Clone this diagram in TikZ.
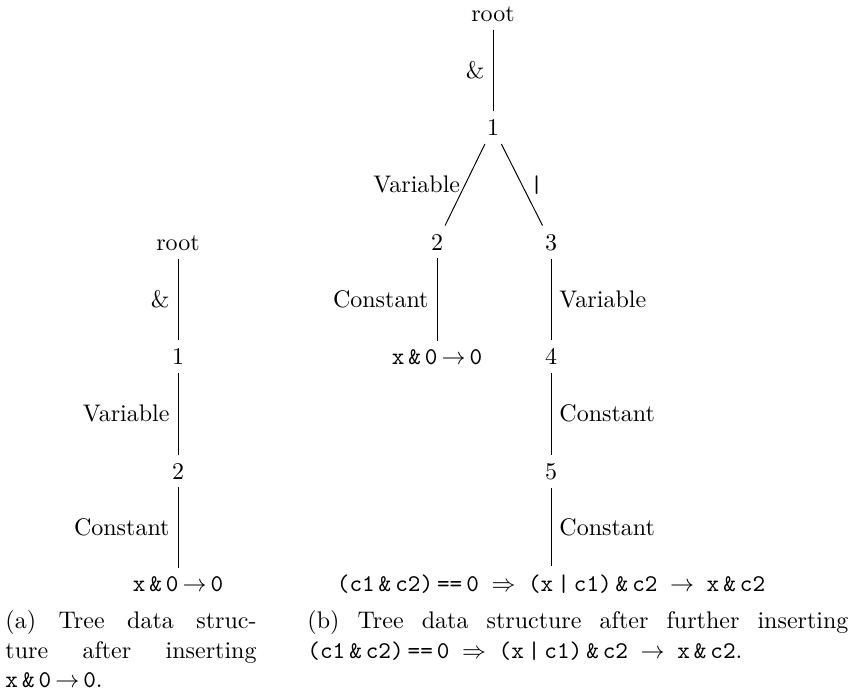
\documentclass[tikz,border=0pt]{standalone}
\begin{document}
\begin{tikzpicture}[x=0.41667pt, y=-0.41667pt,
  nd/.style={anchor=base, inner sep=3.33pt},
  lbl/.style={midway, inner sep=3.33pt},
  captxt/.style={anchor=base west, inner sep=0pt}]
\useasboundingbox (0,0) rectangle (851,692);
% ---- left tree
\node[nd] (Lr) at (178,250) {root};
\node[nd] (L1) at (178,364.5) {1};
\node[nd] (L2) at (178,479) {2};
\node[nd] (Ll) at (178,591) {\texttt{x\,\&\,0}\,$\rightarrow$\,\texttt{0}};
\draw (Lr) -- node[lbl,left] {\&} (L1);
\draw (L1) -- node[lbl,left] {Variable} (L2);
\draw (L2) -- node[lbl,left] {Constant} (Ll);
% ---- right tree
\node[nd] (Rr) at (493,21) {root};
\node[nd] (R1) at (493,135.5) {1};
\node[nd] (R2) at (437,250) {2};
\node[nd] (R3) at (551,250) {3};
\node[nd] (Rl) at (437,364.5) {\texttt{x\,\&\,0}\,$\rightarrow$\,\texttt{0}};
\node[nd] (R4) at (551,364.5) {4};
\node[nd] (R5) at (551,479) {5};
\node[nd] (Rf) at (551,591) {\texttt{(c1\,\&\,c2)\,==\,0 $\Rightarrow$ (x\,|\,c1)\,\&\,c2 $\rightarrow$ x\,\&\,c2}};
\draw (Rr) -- node[lbl,left] {\&} (R1);
\draw (R1) -- node[lbl,left,xshift=1.5pt] {Variable} (R2);
\draw (R1) -- node[lbl,right] {\texttt{|}} (R3);
\draw (R2) -- node[lbl,left] {Constant} (Rl);
\draw (R3) -- node[lbl,right] {Variable} (R4);
\draw (R4) -- node[lbl,right] {Constant} (R5);
\draw (R5) -- node[lbl,right] {Constant} (Rf);
% ---- captions
\node[captxt] (ca1) at (5,628.5) {\makebox[104.6pt][s]{(a) Tree data struc-}};
\node[captxt] (ca2) at (5,658) {\makebox[104.6pt][s]{ture after inserting}};
\node[captxt] (ca3) at (5,687.5) {\texttt{x\,\&\,0}\,$\rightarrow$\,\texttt{0}.};
\node[captxt] (cb1) at (307,628.5) {\makebox[225.4pt][s]{(b) Tree data structure after further inserting}};
\node[captxt] (cb2) at (307,658) {\texttt{(c1\,\&\,c2)\,==\,0 $\Rightarrow$ (x\,|\,c1)\,\&\,c2 $\rightarrow$ x\,\&\,c2}.};
\end{tikzpicture}
\end{document}
